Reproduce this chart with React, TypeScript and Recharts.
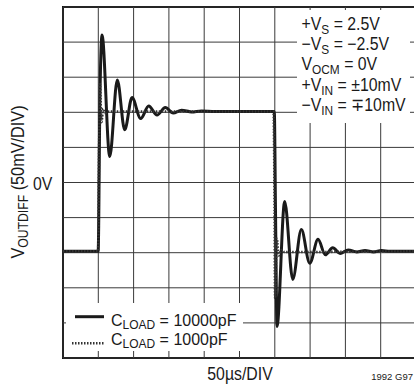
import React from 'react';
import { LineChart, Line, XAxis, YAxis, ReferenceLine, ReferenceArea } from 'recharts';

// scope grid: 50µs/DIV horizontally, 50mV/DIV vertically, 10 x 10 divisions
const timeTicks = [0, 50, 100, 150, 200, 250, 300, 350, 400, 450, 500];
const voltTicks = [-250, -200, -150, -100, -50, 0, 50, 100, 150, 200, 250];

// CLOAD = 10000pF (solid trace), time in µs, VOUTDIFF in mV
const heavyTime = [
  0, 49.8, 52.3, 55.3, 66.2, 76.9, 87.4, 97.8, 110, 121.4, 133.2, 144.9, 156, 168, 182, 196, 215,
  299.3, 301.0, 303.1, 314, 325.4, 337.6, 349.5, 361.2, 371.6, 382, 392.4, 404, 416, 427.8, 440, 451, 463, 500,
];
const heavyVolt = [
  -98, -98, 120, 210, 37, 146, 75, 121, 91, 109, 96, 107, 99, 103, 100.5, 102, 101,
  101, -40, -205, -27, -138, -67, -115, -81, -103, -93, -101, -96, -99, -97, -99, -97, -98, -98,
];

// CLOAD = 1000pF (dotted trace)
const lightTime = [0, 49.6, 51.2, 52.4, 54.5, 57, 60, 65, 298.2, 299.5, 300.4, 302.8, 305.5, 309, 314, 500];
const lightVolt = [-98, -98, 60, 140, 86, 105, 99, 101, 101, -20, -165, -80, -104, -96, -99, -98];

// test-condition lines: [main, subscript, rest]
const conditions: [string, string, string][] = [
  ['+V', 'S', ' = 2.5V'],
  ['−V', 'S', ' = −2.5V'],
  ['V', 'OCM', ' = 0V'],
  ['+V', 'IN', ' = ±10mV'],
  ['−V', 'IN', ' = ∓10mV'],
];
const loadLabels = ['10000pF', '1000pF'];

const toPoints = (t: number[], v: number[]) => t.map((x, i) => ({ t: x, v: v[i] }));
const heavy = toPoints(heavyTime, heavyVolt);
const light = toPoints(lightTime, lightVolt);

const FONT = "'Liberation Sans', Arial, Helvetica, sans-serif";
const INK = '#1a1a1a';
const GRID = '#3a3a3a';
const NARROW = 0.88;

// condensed text, optional subscript part
const Txt = ({
  x, y, size = 18, anchor = 'start', rotate = 0, main, sub, rest, drop = 4, narrow = NARROW,
}: {
  x: number; y: number; size?: number; anchor?: 'start' | 'middle' | 'end'; rotate?: number;
  main: string; sub?: string; rest?: string; drop?: number; narrow?: number;
}) => (
  <text
    transform={`translate(${x},${y}) rotate(${rotate}) scale(${narrow},1)`}
    fontSize={size}
    textAnchor={anchor}
  >
    {main}
    {sub && <tspan fontSize={size * 0.75} dy={drop}>{sub}</tspan>}
    {rest && <tspan dy={sub ? -drop : 0}>{rest}</tspan>}
  </text>
);

export default function App() {
  return (
    <div style={{ position: 'absolute', left: 0, top: 0, width: 414, height: 389, overflow: 'hidden', background: '#fff' }}>
      <LineChart width={420} height={389} margin={{ top: 7, right: 4, bottom: 31, left: 63 }}>
        <XAxis
          dataKey="t"
          type="number"
          domain={[0, 500]}
          ticks={timeTicks}
          height={0}
          tick={false}
          tickLine={false}
          axisLine={false}
          allowDataOverflow
        />
        <YAxis
          type="number"
          domain={[-250, 250]}
          ticks={voltTicks}
          width={0}
          tick={false}
          tickLine={false}
          axisLine={false}
          allowDataOverflow
        />
        {timeTicks.map((t) => (
          <ReferenceLine key={`vx${t}`} x={t} stroke={GRID} strokeWidth={1} />
        ))}
        {voltTicks.map((v) => (
          <ReferenceLine key={`hy${v}`} y={v} stroke={GRID} strokeWidth={1} />
        ))}
        <Line
          data={heavy}
          dataKey="v"
          type="monotone"
          stroke={INK}
          strokeWidth={3}
          dot={false}
          isAnimationActive={false}
        />
        <Line
          data={light}
          dataKey="v"
          type="monotone"
          stroke="#333"
          strokeWidth={2.5}
          strokeDasharray="1.5 1.5"
          dot={false}
          isAnimationActive={false}
        />
        <ReferenceArea x1={0} x2={500} y1={-250} y2={250} fill="none" stroke="#111" strokeWidth={2} />
      </LineChart>

      <svg
        width={414}
        height={389}
        style={{ position: 'absolute', left: 0, top: 0, pointerEvents: 'none' }}
        fontFamily={FONT}
        fill={INK}
      >
        {/* conditions box */}
        <rect x={297} y={10} width={113} height={113} fill="#fff" />
        {conditions.map(([m, s, r], i) => (
          <Txt key={i} x={301.5} y={29.5 + i * 20.35} main={m} sub={s} rest={r} />
        ))}

        {/* legend box */}
        <rect x={66} y={303} width={177} height={48} fill="#fff" />
        <line x1={75} x2={104} y1={316.7} y2={316.7} stroke={INK} strokeWidth={3} />
        <line x1={72} x2={104} y1={343.3} y2={343.3} stroke="#333" strokeWidth={2.5} strokeDasharray="1.5 1.5" />
        {loadLabels.map((l, i) => (
          <Txt key={l} x={111} y={325.8 + i * 19.4} size={17.2} narrow={0.93} drop={3} main="C" sub="LOAD" rest={` = ${l}`} />
        ))}

        {/* axis labels */}
        <Txt x={33} y={189.5} main="0V" />
        <Txt x={24} y={182} rotate={-90} anchor="middle" size={18.5} main="V" sub="OUTDIFF" rest=" (50mV/DIV)" />
        <Txt x={240} y={380} anchor="middle" main="50µs/DIV" />
        <text x={413} y={380} textAnchor="end" fontSize={9.5}>1992 G97</text>
      </svg>
    </div>
  );
}
